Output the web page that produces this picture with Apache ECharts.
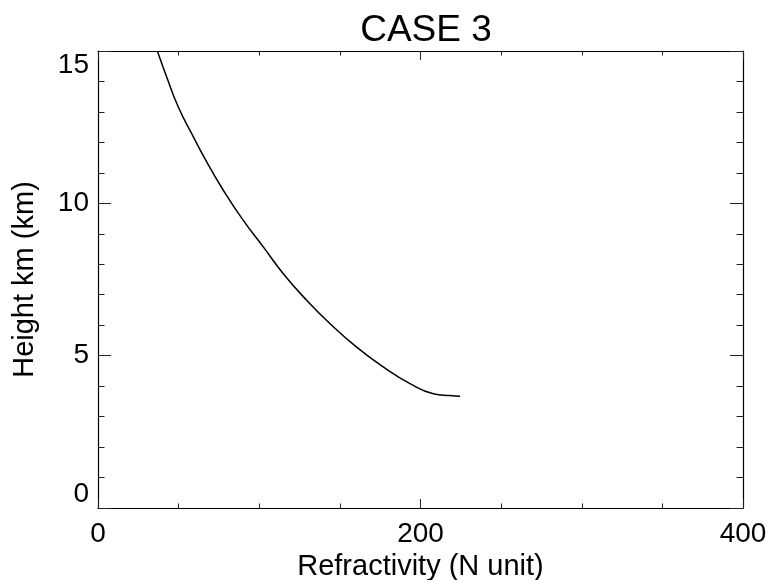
<!DOCTYPE html>
<html>
<head>
<meta charset="utf-8">
<script src="https://cdn.jsdelivr.net/npm/echarts@6/dist/echarts.min.js"></script>
<style>html,body{margin:0;padding:0;background:#fff}#c{width:771px;height:580px}</style>
</head>
<body>
<div id="c"></div>
<script>
var titleText = 'CASE 3';
var xName = 'Refractivity (N unit)';
var yName = 'Height km (km)';
var refractivity = [36.8, 42.6, 49.8, 58.1, 67.4, 77.7, 90.1, 102.5, 114.9, 129.4, 143.9, 160.4, 176.9, 193.5, 208.0, 218.3, 224.5];
var height = [15.0, 14.15, 13.16, 12.29, 11.36, 10.43, 9.44, 8.57, 7.69, 6.82, 6.05, 5.28, 4.63, 4.08, 3.75, 3.69, 3.67];
var xMin = 0, xMax = 400, xStep = 200;
var yMin = 0, yMax = 15, yStep = 5;

var FONT = 'Liberation Sans';
var pts = refractivity.map(function (v, i) { return [v, height[i]]; });
var chart = echarts.init(document.getElementById('c'), null, {renderer: 'canvas'});
var lineStyle = {color: '#000', width: 1.2};
function xa(pos, showLabel) {
  return {
    type: 'value', position: pos, min: xMin, max: xMax, interval: xStep,
    axisLine: {show: true, onZero: false, lineStyle: lineStyle},
    axisTick: {show: true, inside: true, length: 9, lineStyle: {color: '#222', width: 1}},
    minorTick: {show: true, splitNumber: 4, length: 4.5, lineStyle: {color: '#222', width: 1}},
    splitLine: {show: false}, minorSplitLine: {show: false},
    axisLabel: {show: showLabel, fontSize: 28, fontFamily: FONT, color: '#000', margin: 12},
    name: showLabel ? xName : '', nameLocation: 'middle', nameGap: 42,
    nameTextStyle: {fontSize: 29, fontFamily: FONT, color: '#000'}
  };
}
function ya(pos, showLabel) {
  return {
    type: 'value', position: pos, min: yMin, max: yMax, interval: yStep,
    axisLine: {show: true, onZero: false, lineStyle: lineStyle},
    axisTick: {show: true, inside: true, length: 13, lineStyle: {color: '#222', width: 1}},
    minorTick: {show: true, splitNumber: 5, length: 6.5, lineStyle: {color: '#222', width: 1}},
    splitLine: {show: false}, minorSplitLine: {show: false},
    axisLabel: {show: showLabel, fontSize: 28, fontFamily: FONT, color: '#000', margin: 9,
      verticalAlignMinLabel: 'bottom', verticalAlignMaxLabel: 'top'},
    name: showLabel ? yName : '', nameLocation: 'middle', nameGap: 59, nameRotate: 90,
    nameTextStyle: {fontSize: 29, fontFamily: FONT, color: '#000'}
  };
}
chart.setOption({
  animation: false,
  backgroundColor: '#fff',
  title: {text: titleText, left: 421, top: 7, textAlign: 'center',
    textStyle: {fontSize: 37, fontWeight: 'normal', fontFamily: FONT, color: '#000'}},
  grid: {left: 98, right: 28, top: 51, bottom: 72, containLabel: false, outerBoundsMode: 'none'},
  xAxis: [xa('bottom', true), xa('top', false)],
  yAxis: [ya('left', true), ya('right', false)],
  series: [{
    type: 'line', data: pts, xAxisIndex: 0, yAxisIndex: 0,
    showSymbol: false, smooth: 0.5, clip: true,
    lineStyle: {color: '#000', width: 1.5}
  }]
});
</script>
</body>
</html>
